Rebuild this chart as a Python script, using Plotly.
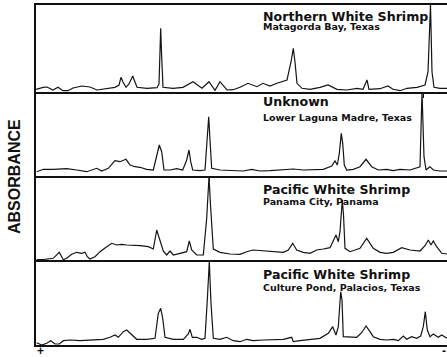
import plotly.graph_objects as go

# ---- data: migration position (x) and absorbance (height) for each densitometer scan ----
p1_x = [36, 43, 47, 53, 58, 63, 68, 73, 82, 90, 97, 107, 115, 119, 121, 123, 126, 129, 132.7, 135, 137,
        147, 157, 159, 160.7, 161.5, 163, 173, 183, 193, 202, 209, 215, 220, 227, 233, 240, 248, 257,
        263, 270, 277, 287, 291, 293.3, 295, 297, 302, 310, 320, 328, 337, 347, 357, 363, 367, 369, 380,
        388, 393, 400, 407, 417, 425, 428, 430.5, 432, 434, 440, 447]
p1_y = [2.7, 4.7, 5, 2, 4.7, 1.3, 1.3, 4, 6, 5, 2, 3.7, 4.7, 7, 14.7, 10, 4.7, 8, 16, 10, 4.7,
        3.7, 4.3, 8, 63.7, 40, 4.7, 3.7, 4.7, 10.3, 3.7, 10.3, 1.7, 10.3, 2, 2.3, 4.7, 8.7, 5.3,
        8.7, 6, 8.7, 12, 30, 43.7, 30, 8.7, 3.7, 2.7, 4.7, 7, 2.7, 2, 3.7, 2.7, 12, 2.7, 3.3,
        6, 2.7, 1.3, 3.7, 4.7, 7, 20, 87, 20, 4.7, 3.7, 3.7]

p2_x = [36.7, 43.3, 53.3, 66.7, 76.7, 86.7, 96.7, 101.7, 108.3, 115, 120, 126, 130, 135, 140, 146.7,
        153.3, 156.7, 159.3, 161.7, 164, 170, 176.7, 182.7, 186.7, 189, 190.7, 192.7, 200, 205, 207.3,
        208.7, 210, 211.7, 220, 233.3, 243.3, 251.7, 260, 270, 280, 293.3, 303.3, 313.3, 323.3, 331.7,
        335, 337.3, 339.3, 341.3, 342.7, 344.3, 346.7, 353.3, 360, 366, 371.7, 378.3, 386.7, 393.3, 400,
        410, 416.7, 420, 422, 424, 426, 430, 433.3, 440, 447]
p2_y = [3.8, 6.2, 6.2, 6.8, 5.5, 3.8, 7.2, 4.5, 7.2, 14.8, 13.8, 16.2, 10.5, 8.8, 8.2, 6.2,
        5.5, 18.8, 30.5, 23.8, 5.5, 5.5, 6.8, 5.5, 15.5, 25.5, 13.8, 5.5, 4.8, 5.5, 45.5,
        58.8, 35.5, 7.2, 5.5, 4.8, 4.5, 6.2, 4.5, 4.8, 5.5, 6.5, 5.5, 5.5, 6.2, 9.5,
        14.5, 10.5, 22.2, 42.2, 32.2, 10.5, 5.5, 6.2, 8.8, 16.2, 8.8, 5.5, 6.2, 4.8, 6.2,
        5.5, 7.2, 8.8, 83.8, 18.8, 5.5, 8.8, 5.5, 4.5, 4.5]

p3_x = [36.7, 43.3, 53.3, 59.3, 63.3, 66.7, 71.7, 76.7, 81.7, 85, 87.3, 90, 95, 100, 106.7, 111.7,
        116.7, 121.7, 126.7, 133.3, 140, 148.3, 153.3, 156.7, 159.3, 163.3, 166.7, 170, 173.3, 180,
        186.7, 189.3, 191.7, 196.7, 203.3, 206.7, 209, 210.7, 213.3, 220, 230, 240, 246.7, 253.3,
        263.3, 273.3, 283.3, 288.3, 292.7, 296.7, 303.3, 310, 316.7, 323.3, 330, 336, 338.3, 340,
        342.3, 343.5, 345, 350, 360, 366.7, 373.3, 380, 386.7, 393.3, 401.7, 410, 420, 425, 428.3,
        431, 433.3, 436.7, 441.7, 447]
p3_y = [0.5, 0.5, 1.7, 7.7, 0.3, 1.7, 5.7, 7.7, 6.7, 7.7, 3.3, 1, 3.3, 8.3, 13.3, 16.7,
        15, 15.7, 15, 15, 14.3, 13.3, 11, 30, 21.7, 9, 5, 9, 5, 6.7,
        8.3, 19, 10, 5, 5, 41.7, 83.3, 51.7, 11, 7.7, 6, 5.7, 8.3, 10,
        9, 8.3, 7.7, 10, 16.7, 10, 7.7, 6.7, 10, 11, 12.3, 25, 18.3, 28.3,
        60, 45, 11.7, 8.3, 11.7, 21.7, 11.7, 7.7, 6.7, 7.7, 12.3, 10, 9, 14.3, 20,
        15, 19, 13.3, 6.7, 6]

p4_x = [36.7, 41.7, 46.7, 50.7, 55, 59.3, 63.3, 70, 80, 90, 98.3, 103.3, 110, 115, 118.3, 123.3,
        126.7, 131.7, 136.7, 146.7, 155, 158.3, 160.7, 162.7, 165, 173.3, 183.3, 188.3, 190, 192.3,
        196.7, 201.7, 205, 207.3, 209.3, 211, 213.3, 220, 226.7, 233.3, 240, 246.7, 253.3, 263.3,
        273.3, 283.3, 291.7, 293.3, 300, 310, 320, 328.3, 332.7, 336, 338.3, 340.7, 342, 343.3, 350,
        356.7, 361.7, 366, 370, 373.3, 380, 386.7, 393.3, 398.3, 403.3, 406.7, 411.7, 416.7, 420.7,
        423.3, 425.3, 427.3, 430, 433.3, 438.3, 441.7, 447]
p4_y = [2.3, 0, 1.7, 4.3, 1, 1, 4.3, 5, 4.3, 5, 5, 5.7, 7.7, 10, 7.7, 13.3,
        15, 10, 5.7, 5.7, 6.7, 31.7, 36.7, 26.7, 7.7, 5.7, 5.7, 11, 15.7, 7.7,
        7.7, 5.7, 6.7, 45, 83.3, 41.7, 6.7, 5.7, 7.7, 4.3, 3.3, 5.7, 4.3, 5,
        5.7, 5.7, 7.7, 3.3, 4.3, 5.7, 6.7, 11.7, 18.3, 10, 18.3, 53.3, 45, 8.3, 8.3,
        7.7, 12.3, 19, 13.3, 8.3, 5.7, 5, 5.7, 4.3, 9, 5.7, 8.3, 6.7, 9,
        18.3, 33.3, 15, 8.3, 11, 7.7, 10, 6.7]

titles = ["Northern White Shrimp", "Unknown", "Pacific White Shrimp", "Pacific White Shrimp"]
locations = ["Matagorda Bay, Texas", "Lower Laguna Madre, Texas", "Panama City, Panama",
             "Culture Pond, Palacios, Texas"]
marker_pos = [[423], [209], [209], []]

# ---- layout geometry (pixels) ----
W, H = 447, 357
L, T, B = 36, 5, 12
panel_px = [87, 83.5, 84.5, 85]          # panel heights, top to bottom
plot_h = sum(panel_px)

def py(ypx):
    return (H - B - ypx) / plot_h

fig = go.Figure()
series = [(p1_x, p1_y), (p2_x, p2_y), (p3_x, p3_y), (p4_x, p4_y)]
top = 0
for i, (xs, ys) in enumerate(series):
    k = "" if i == 0 else str(i + 1)
    d_top = 1 - top / plot_h
    d_bot = 1 - (top + panel_px[i]) / plot_h
    top += panel_px[i]
    fig.add_trace(go.Scatter(x=xs, y=ys, mode="lines", xaxis="x" + k, yaxis="y" + k,
                             line=dict(color="#141414", width=1.2), hoverinfo="skip",
                             showlegend=False))
    fig.layout["xaxis" + k] = dict(domain=[0, 1], range=[36, 447], anchor="y" + k,
                                   showline=True, linecolor="#111", linewidth=1.5,
                                   mirror=(i == 0), showgrid=False, zeroline=False,
                                   tickvals=marker_pos[i], ticks="outside" if marker_pos[i] else "",
                                   ticklen=4, tickwidth=1.2, tickcolor="#111",
                                   showticklabels=False)
    fig.layout["yaxis" + k] = dict(domain=[d_bot, d_top], range=[0, panel_px[i]], anchor="x" + k,
                                   showline=True, linecolor="#111", linewidth=1.5,
                                   showgrid=False, zeroline=False, showticklabels=False, ticks="")

FONT = "DejaVu Sans"
title_y = [16.2, 101.5, 189.2, 274.2]
sub_y = [27, 117, 201.5, 287]
ann = []
for i in range(4):
    ann.append(dict(text="<b>%s</b>" % titles[i], x=261, xref="x", y=py(title_y[i]), yref="paper",
                    xanchor="left", yanchor="middle", showarrow=False,
                    font=dict(family=FONT, size=12.6, color="#111")))
    ann.append(dict(text="<b>%s</b>" % locations[i], x=261, xref="x", y=py(sub_y[i]), yref="paper",
                    xanchor="left", yanchor="middle", showarrow=False,
                    font=dict(family=FONT, size=9.5, color="#111")))
ann.append(dict(text="<b>ABSORBANCE</b>", x=(14 - L) / (W - L), xref="paper", y=py(177), yref="paper",
                textangle=-90, showarrow=False, xanchor="center", yanchor="middle",
                font=dict(family="Liberation Sans, Arial", size=16, color="#111")))
ann.append(dict(text="<b>+</b>", x=40, xref="x", y=py(351), yref="paper", showarrow=False,
                xanchor="center", yanchor="middle",
                font=dict(family="Liberation Sans, Arial", size=12, color="#111")))
ann.append(dict(text="<b>-</b>", x=444, xref="x", y=py(351), yref="paper", showarrow=False,
                xanchor="center", yanchor="middle",
                font=dict(family="Liberation Sans, Arial", size=12, color="#111")))

fig.update_layout(width=W, height=H, margin=dict(l=L, r=0, t=T, b=B, pad=0, autoexpand=False),
                  paper_bgcolor="white", plot_bgcolor="white", annotations=ann,
                  showlegend=False)
fig.write_html("out.html", config={"displayModeBar": False},
               post_script="document.body.style.margin='0';document.body.style.overflow='hidden';")
